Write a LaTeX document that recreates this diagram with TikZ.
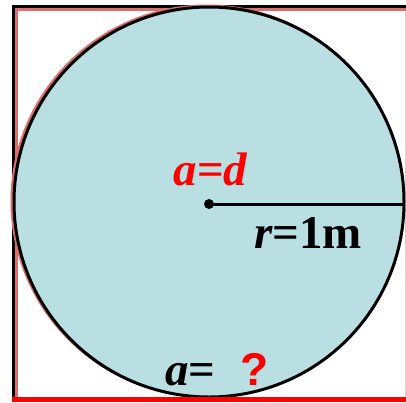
\documentclass[tikz,border=0pt]{standalone}
\usepackage{fontspec}
\setmainfont{Liberation Serif}
\newfontfamily\qfont{Liberation Sans}
\definecolor{fillblue}{RGB}{185,223,227}
\definecolor{shadowred}{RGB}{222,110,110}
\definecolor{pure}{RGB}{255,0,0}
\tikzset{
  lbl/.style={inner sep=0pt, anchor=base, font=\fontsize{47}{47}\selectfont\bfseries},
  blackline/.style={draw=black, line width=3pt},
  shadowline/.style={draw=shadowred, line width=3pt},
}
\begin{document}
\begin{tikzpicture}[x=1pt,y=-1pt]
\useasboundingbox (0,0) rectangle (406,402);
\fill[white] (0,0) rectangle (406,402);
% faint right border
\draw[gray!35, line width=1pt] (405,6) -- (405,398);
% red shadows of square sides
\draw[shadowline] (16,9) -- (16,398);
\draw[shadowline] (14,9) -- (406,9);
% black square sides
\draw[blackline] (13,6) -- (13,398);
\draw[blackline] (11.5,6.5) -- (406,6.5);
% circle shadow and circle
\draw[shadowred, line width=3pt] (207,201) circle (195);
\filldraw[fill=fillblue, draw=black, line width=3pt] (209,202) circle (195);
% bottom red side
\draw[draw=pure, line width=5pt] (12,399.5) -- (406,399.5);
% centre and radius
\node[circle, fill=black, inner sep=0pt, minimum size=10pt] (c) at (209,204) {};
\coordinate (rim) at (404,204);
\draw[line width=3pt] (c.center) -- (rim);
\node[lbl, text=pure] (ad) at (210.5,185) {\itshape a\upshape=\itshape d};
\node[lbl] (r) at (308,248) {\itshape r\upshape=1m};
\node[lbl, anchor=base west] (a) at (165,385) {\itshape a\upshape=};
\node[lbl, anchor=base west, text=pure, font=\fontsize{46}{46}\selectfont\qfont\bfseries] (q) at (240,385) {?};
\end{tikzpicture}
\end{document}
